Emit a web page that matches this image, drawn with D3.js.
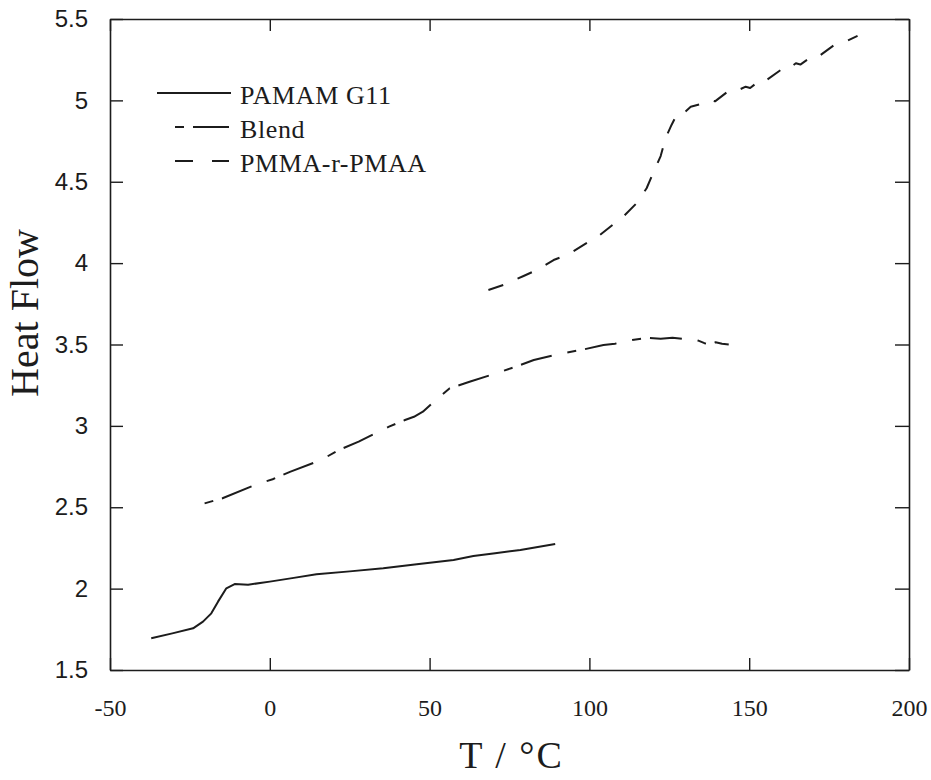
<!DOCTYPE html>
<html>
<head>
<meta charset="utf-8">
<script src="https://cdn.jsdelivr.net/npm/d3@7/dist/d3.min.js"></script>
<style>
  html, body { margin: 0; padding: 0; background: #fff; }
  svg { display: block; }
</style>
</head>
<body>
<script>
// DSC traces: temperature (°C) vs heat flow
const pamamG11 = [
  [-37.1, 1.695], [-30.5, 1.725], [-24.0, 1.756], [-20.9, 1.797], [-18.3, 1.848],
  [-16.2, 1.920], [-13.6, 2.002], [-11.0, 2.028], [-6.8, 2.024], [0.0, 2.043],
  [7.5, 2.066], [14.6, 2.088], [25.0, 2.106], [35.5, 2.125], [46.0, 2.150],
  [57.5, 2.176], [63.7, 2.200], [70.5, 2.218], [78.4, 2.237], [89.3, 2.274]
];
const blend = [
  [-20.4, 2.524], [-14.8, 2.555], [-4.7, 2.637], [0.9, 2.672], [6.5, 2.719],
  [16.0, 2.790], [21.6, 2.852], [27.8, 2.903], [37.3, 2.995], [42.3, 3.036],
  [45.1, 3.056], [47.9, 3.087], [52.0, 3.160], [56.3, 3.231], [62.5, 3.271],
  [70.0, 3.318], [77.0, 3.364], [82.6, 3.405], [90.0, 3.440], [98.3, 3.470],
  [104.4, 3.497], [108.0, 3.505], [113.4, 3.528], [118.2, 3.540], [122.3, 3.536],
  [126.0, 3.542], [129.2, 3.535], [131.5, 3.538], [133.9, 3.525], [136.0, 3.508],
  [138.0, 3.502], [139.5, 3.514], [141.5, 3.505], [143.6, 3.500]
];
const pmmaPmaa = [
  [68.4, 3.835], [73.1, 3.866], [79.4, 3.921], [83.6, 3.958], [88.8, 4.019],
  [93.5, 4.054], [98.7, 4.118], [102.9, 4.167], [107.6, 4.240], [110.8, 4.290],
  [114.9, 4.371], [117.9, 4.460], [120.0, 4.556], [122.3, 4.658], [123.8, 4.767],
  [125.7, 4.849], [127.0, 4.900], [128.5, 4.930], [129.5, 4.922], [131.7, 4.961],
  [135.0, 4.978], [137.9, 5.002], [139.3, 4.994], [143.2, 5.053], [144.6, 5.045],
  [148.9, 5.084], [150.3, 5.076], [154.1, 5.135], [155.5, 5.126], [159.9, 5.187],
  [161.3, 5.179], [164.6, 5.228], [166.0, 5.220], [170.3, 5.279], [172.0, 5.274],
  [176.6, 5.340], [180.0, 5.360], [183.9, 5.396]
];

const seriesNames = ["PAMAM G11", "Blend", "PMMA-r-PMAA"];
const xTicks = [-50, 0, 50, 100, 150, 200];
const yTicks = [1.5, 2, 2.5, 3, 3.5, 4, 4.5, 5, 5.5];
const xTitle = "T / °C";
const yTitle = "Heat Flow";

const W = 931, H = 780;
const plot = { left: 110, right: 909, top: 19, bottom: 670 };
const ink = "#1c1c1c";

const svg = d3.select("body").append("svg").attr("width", W).attr("height", H);
svg.append("rect").attr("width", W).attr("height", H).attr("fill", "#fff");

const x = d3.scaleLinear().domain([-50, 200]).range([plot.left, plot.right]);
const y = d3.scaleLinear().domain([1.5, 5.5]).range([plot.bottom, plot.top]);

const serif = "'Liberation Serif', 'Times New Roman', serif";
const sans = "'Liberation Sans', Arial, sans-serif";

function styleAxis(g) {
  g.select(".domain").attr("stroke", ink).attr("stroke-width", 1.6);
  g.selectAll(".tick line").attr("stroke", ink).attr("stroke-width", 1.4);
}

// bottom axis with labels
svg.append("g").attr("transform", `translate(0,${plot.bottom})`)
  .call(d3.axisBottom(x).tickValues(xTicks).tickSize(-12).tickSizeOuter(0).tickPadding(29).tickFormat(d => String(d)))
  .call(styleAxis)
  .call(g => g.selectAll("text").attr("fill", ink).style("font-family", serif).style("font-size", "24px"));

// top axis
svg.append("g").attr("transform", `translate(0,${plot.top})`)
  .call(d3.axisTop(x).tickValues(xTicks).tickSize(-12).tickSizeOuter(0).tickFormat(""))
  .call(styleAxis);

// left axis with labels
svg.append("g").attr("transform", `translate(${plot.left},0)`)
  .call(d3.axisLeft(y).tickValues(yTicks).tickSize(-13).tickSizeOuter(0).tickPadding(22).tickFormat(d => String(d)))
  .call(styleAxis)
  .call(g => g.selectAll("text").attr("fill", ink).style("font-family", sans).style("font-size", "24px"));

// right axis
svg.append("g").attr("transform", `translate(${plot.right},0)`)
  .call(d3.axisRight(y).tickValues(yTicks).tickSize(-14).tickSizeOuter(0).tickFormat(""))
  .call(styleAxis);

// axis titles
svg.append("text")
  .attr("x", (plot.left + plot.right) / 2 + 2).attr("y", 768)
  .attr("text-anchor", "middle")
  .attr("fill", ink)
  .style("font-family", serif).style("font-size", "38px")
  .style("letter-spacing", "2px")
  .text(xTitle);

svg.append("text")
  .attr("transform", "translate(38,313) rotate(-90)")
  .attr("text-anchor", "middle")
  .attr("fill", ink)
  .style("font-family", serif).style("font-size", "40px")
  .text(yTitle);

// curves
const line = d3.line().x(d => x(d[0])).y(d => y(d[1])).curve(d3.curveLinear);
const dashes = [null, "9,9,32,16", "16,16"];
const datasets = [pamamG11, blend, pmmaPmaa];

datasets.forEach((data, i) => {
  const p = svg.append("path")
    .datum(data)
    .attr("d", line)
    .attr("fill", "none")
    .attr("stroke", ink)
    .attr("stroke-width", 2)
    .attr("stroke-linejoin", "round")
    .attr("stroke-dasharray", dashes[i]);

  // plain dashed trace: pick a period so the trace both starts and ends on a dash
  if (i === 2) {
    const L = p.node().getTotalLength();
    let best = 32, bestErr = Infinity;
    for (let per = 29; per <= 35; per += 0.1) {
      const err = Math.abs((L % per) - 0.35 * per);
      if (err < bestErr) { bestErr = err; best = per; }
    }
    p.attr("stroke-dasharray", `${(best / 2).toFixed(2)},${(best / 2).toFixed(2)}`);
  }
});

// legend
const legendRows = [93, 127, 161];
const legendSegs = [
  [[157, 231]],
  [[175, 184], [193, 229]],
  [[175, 193], [212, 229]]
];
seriesNames.forEach((name, i) => {
  legendSegs[i].forEach(s => {
    svg.append("line")
      .attr("x1", s[0]).attr("x2", s[1])
      .attr("y1", legendRows[i]).attr("y2", legendRows[i])
      .attr("stroke", ink).attr("stroke-width", 2);
  });
  svg.append("text")
    .attr("x", 240).attr("y", legendRows[i] + 11)
    .attr("fill", ink)
    .style("font-family", serif).style("font-size", "26px")
    .style("letter-spacing", "0.6px")
    .text(name);
});
</script>
</body>
</html>
